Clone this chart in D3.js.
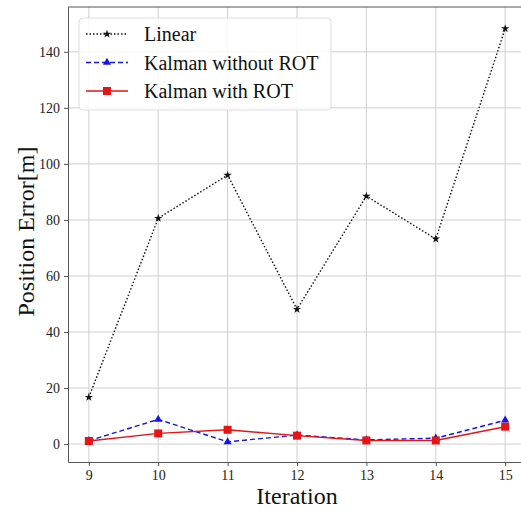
<!DOCTYPE html>
<html>
<head>
<meta charset="utf-8">
<script src="https://cdn.jsdelivr.net/npm/d3@7"></script>
<style>
  body { margin: 0; background: #fff; }
  svg { display: block; font-family: "Liberation Serif", "Times New Roman", serif; }
</style>
</head>
<body>
<div id="chart"></div>
<script>
// Data
const iterations = [9, 10, 11, 12, 13, 14, 15];
const linearErr = [16.7, 80.6, 96.0, 48.1, 88.5, 73.2, 148.3];
const kalmanNoRot = [1.2, 8.8, 0.8, 3.2, 1.5, 2.1, 8.5];
const kalmanRot = [1.1, 3.8, 5.1, 3.0, 1.3, 1.3, 6.2];
const yTicks = [0, 20, 40, 60, 80, 100, 120, 140];
const seriesNames = ["Linear", "Kalman without ROT", "Kalman with ROT"];

const W = 521, H = 510;
const margin = { top: 7, right: -5, bottom: 48, left: 68 },
    width = W - margin.left - margin.right,
    height = H - margin.top - margin.bottom;

const svg = d3.select("#chart")
  .append("svg")
    .attr("width", W)
    .attr("height", H)
  .append("g")
    .attr("transform", `translate(${margin.left},${margin.top})`);

const x = d3.scaleLinear().domain([8.7, 15.3]).range([0, width]);
const y = d3.scaleLinear().domain([-6.4, 156]).range([height, 0]);

// Grid
svg.append("g")
  .selectAll("line")
  .data(iterations)
  .enter().append("line")
    .attr("x1", d => x(d)).attr("x2", d => x(d))
    .attr("y1", 0).attr("y2", height)
    .attr("stroke", "#cfcfcf").attr("stroke-width", 1);
svg.append("g")
  .selectAll("line")
  .data(yTicks)
  .enter().append("line")
    .attr("y1", d => y(d)).attr("y2", d => y(d))
    .attr("x1", 0).attr("x2", width)
    .attr("stroke", "#cfcfcf").attr("stroke-width", 1);

// Axes
const xAxis = svg.append("g")
  .attr("transform", `translate(0,${height})`)
  .call(d3.axisBottom(x).tickValues(iterations).tickFormat(d3.format("d"))
    .tickSize(4).tickPadding(4).tickSizeOuter(0));
const yAxis = svg.append("g")
  .call(d3.axisLeft(y).tickValues(yTicks).tickFormat(d3.format("d"))
    .tickSize(4).tickPadding(4).tickSizeOuter(0));
[xAxis, yAxis].forEach(a => {
  a.attr("font-family", null).attr("font-size", null);
  a.select(".domain").attr("stroke", "#555");
  a.selectAll(".tick line").attr("stroke", "#555");
  a.selectAll(".tick text")
    .attr("fill", "#222")
    .style("font-family", "'Liberation Serif', serif")
    .style("font-size", "14px");
});

// Frame top / right
svg.append("line").attr("x1", 0).attr("x2", width).attr("y1", 0).attr("y2", 0).attr("stroke", "#555");
svg.append("line").attr("x1", width).attr("x2", width).attr("y1", 0).attr("y2", height).attr("stroke", "#555");

// Axis labels
svg.append("text")
  .attr("x", x(12)).attr("y", height + 42)
  .attr("text-anchor", "middle")
  .style("font-size", "24px").attr("fill", "#111")
  .text("Iteration");
svg.append("text")
  .attr("transform", "rotate(-90)")
  .attr("x", -height / 2 + 3).attr("y", -margin.left + 34)
  .attr("text-anchor", "middle")
  .style("font-size", "24px").attr("fill", "#111")
  .text("Position Error[m]");

const line = d3.line().x((d, i) => x(iterations[i])).y(d => y(d));

const series = [
  { name: seriesNames[0], values: linearErr, color: "#111", dash: "1.5,2", width: 1.4, marker: "star" },
  { name: seriesNames[1], values: kalmanNoRot, color: "#1414e6", dash: "5,3", width: 1.4, marker: "triangle" },
  { name: seriesNames[2], values: kalmanRot, color: "#e61414", dash: null, width: 1.4, marker: "square" }
];

function drawMarker(g, type, cx, cy, color) {
  if (type === "star") {
    g.append("path").attr("d", d3.symbol(d3.symbolStar, 22)())
      .attr("transform", `translate(${cx},${cy})`).attr("fill", color);
  } else if (type === "triangle") {
    g.append("path").attr("d", d3.symbol(d3.symbolTriangle, 28)())
      .attr("transform", `translate(${cx},${cy})`).attr("fill", color);
  } else {
    g.append("rect").attr("x", cx - 4).attr("y", cy - 4).attr("width", 8).attr("height", 8).attr("fill", color);
  }
}

series.forEach(s => {
  const g = svg.append("g");
  g.append("path")
    .datum(s.values)
    .attr("d", line)
    .attr("fill", "none")
    .attr("stroke", s.color)
    .attr("stroke-width", s.width)
    .attr("stroke-dasharray", s.dash);
  s.values.forEach((v, i) => drawMarker(g, s.marker, x(iterations[i]), y(v), s.color));
});

// Legend
const lg = svg.append("g").attr("transform", "translate(11,11)");
lg.append("rect")
  .attr("width", 252).attr("height", 92).attr("rx", 4)
  .attr("fill", "#fff").attr("fill-opacity", 0.85)
  .attr("stroke", "#ddd");
series.forEach((s, i) => {
  const yy = 16 + i * 28.5;
  lg.append("line")
    .attr("x1", 7).attr("x2", 49).attr("y1", yy).attr("y2", yy)
    .attr("stroke", s.color).attr("stroke-width", s.width)
    .attr("stroke-dasharray", s.dash);
  drawMarker(lg, s.marker, 28, yy, s.color);
  lg.append("text")
    .attr("x", 65).attr("y", yy + 7)
    .style("font-size", "20px").attr("fill", "#111")
    .text(s.name);
});
</script>
</body>
</html>
